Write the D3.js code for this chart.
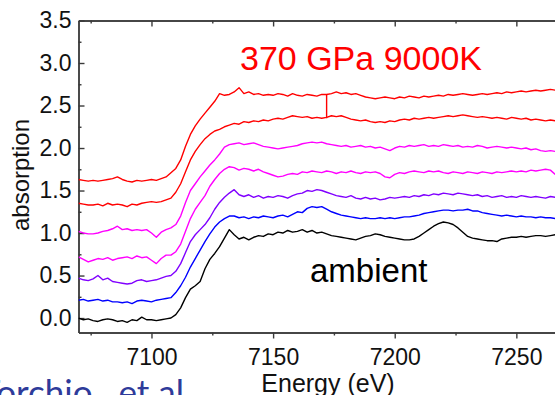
<!DOCTYPE html>
<html>
<head>
<meta charset="utf-8">
<script src="https://cdn.jsdelivr.net/npm/d3@7"></script>
<style>
  html, body { margin: 0; padding: 0; background: #fff; }
  svg { display: block; }
  text { font-family: "Liberation Sans", Arial, sans-serif; }
</style>
</head>
<body>
<svg id="chart" width="555" height="395"></svg>
<script>
// Sampling grid (eV), 2 eV steps
const energies = [
  7070,7072,7074,7076,7078,7080,7082,7084,7086,7088,7090,7092,7094,7096,7098,7100,7102,7104,7106,7108,
  7110,7112,7114,7116,7118,7120,7122,7124,7126,7128,7130,7132,
  7134,7136,7138,7140,7142,7144,7146,7148,7150,7152,7154,7156,7158,7160,7162,7164,7166,7168,7170,
  7172,7174,7176,7178,7180,7182,7184,7186,7188,7190,7192,7194,7196,7198,7200,7202,7204,7206,7208,7210,
  7212,7214,7216,7218,7220,7222,7224,7226,7228,7230,7232,7234,7236,7238,7240,7242,7244,7246,7248,7250,
  7252,7254,7256,7258,7260,7262,7264,7266
];

// Stacked absorption spectra, bottom (ambient) to top (370 GPa, 9000 K)
const ambient = [
  0.00,-0.02,-0.01,-0.03,-0.04,-0.02,-0.01,-0.02,-0.04,-0.03,-0.05,-0.02,-0.03,0.01,-0.02,-0.02,-0.03,-0.02,-0.01,0.00,
  0.04,0.12,0.24,0.34,0.38,0.43,0.58,0.69,0.76,0.84,0.94,1.04,
  0.98,0.93,0.95,0.92,0.95,0.97,0.96,0.99,0.98,1.01,1.00,1.03,1.01,1.02,1.04,1.01,1.03,1.00,1.01,
  0.99,0.97,0.96,0.95,0.94,0.93,0.92,0.94,0.96,0.97,0.99,0.98,0.96,0.95,0.94,0.93,0.92,0.92,0.93,0.96,
  1.00,1.04,1.08,1.11,1.13,1.12,1.10,1.06,1.01,0.96,0.94,0.93,0.92,0.91,0.91,0.90,0.93,0.94,0.95,0.95,
  0.96,0.95,0.96,0.97,0.97,0.96,0.97,0.98
];
const blueSeries = [
  0.21,0.22,0.20,0.21,0.22,0.20,0.21,0.19,0.19,0.18,0.19,0.17,0.20,0.21,0.20,0.19,0.21,0.22,0.23,0.24,
  0.30,0.38,0.48,0.60,0.70,0.80,0.90,0.99,1.07,1.13,1.17,1.20,
  1.20,1.18,1.19,1.17,1.19,1.18,1.20,1.19,1.18,1.20,1.21,1.19,1.22,1.25,1.24,1.29,1.31,1.30,1.31,
  1.28,1.25,1.23,1.21,1.20,1.19,1.18,1.17,1.18,1.17,1.17,1.18,1.17,1.18,1.17,1.18,1.19,1.19,1.20,1.21,
  1.23,1.24,1.25,1.26,1.27,1.27,1.26,1.27,1.27,1.28,1.26,1.26,1.24,1.23,1.22,1.21,1.20,1.21,1.20,1.19,
  1.20,1.19,1.19,1.18,1.19,1.18,1.18,1.17
];
const violetSeries = [
  0.47,0.45,0.44,0.46,0.50,0.45,0.47,0.43,0.42,0.41,0.40,0.41,0.44,0.45,0.43,0.44,0.45,0.47,0.49,0.50,
  0.55,0.64,0.77,0.90,0.98,1.04,1.10,1.18,1.28,1.36,1.42,1.47,
  1.51,1.45,1.43,1.45,1.42,1.44,1.41,1.43,1.42,1.44,1.43,1.41,1.44,1.46,1.47,1.50,1.49,1.51,1.50,
  1.48,1.46,1.44,1.43,1.42,1.44,1.41,1.40,1.42,1.40,1.41,1.39,1.40,1.42,1.41,1.42,1.43,1.42,1.44,1.43,
  1.45,1.44,1.46,1.45,1.47,1.46,1.45,1.47,1.46,1.45,1.44,1.45,1.43,1.44,1.42,1.43,1.44,1.42,1.43,1.42,
  1.44,1.43,1.42,1.43,1.42,1.41,1.43,1.42
];
const magentaLow = [
  0.72,0.69,0.66,0.68,0.70,0.69,0.71,0.68,0.70,0.71,0.72,0.70,0.73,0.71,0.72,0.68,0.64,0.70,0.74,0.74,
  0.78,0.87,1.02,1.17,1.28,1.36,1.44,1.55,1.63,1.70,1.75,1.78,
  1.77,1.74,1.76,1.75,1.73,1.75,1.72,1.70,1.68,1.66,1.67,1.69,1.70,1.69,1.72,1.71,1.73,1.72,1.71,
  1.73,1.72,1.70,1.72,1.71,1.73,1.71,1.70,1.72,1.71,1.72,1.70,1.66,1.65,1.69,1.71,1.70,1.72,1.73,1.72,
  1.71,1.73,1.72,1.73,1.71,1.70,1.72,1.71,1.70,1.72,1.71,1.70,1.72,1.71,1.70,1.72,1.71,1.72,1.73,1.72,
  1.73,1.72,1.74,1.73,1.74,1.75,1.74,1.69
];
const magentaHigh = [
  1.02,1.00,0.99,0.99,1.00,1.02,1.03,1.05,1.08,1.04,1.05,1.03,1.04,1.03,1.04,1.00,0.95,1.01,1.04,1.06,
  1.10,1.20,1.36,1.50,1.58,1.66,1.73,1.80,1.86,1.93,2.01,2.04,
  2.05,2.06,2.04,2.05,2.06,2.04,2.02,2.01,2.00,1.99,2.00,2.01,2.02,2.03,2.05,2.06,2.07,2.06,2.07,
  2.05,2.04,2.03,2.02,2.03,2.01,2.02,2.03,2.01,2.02,2.00,2.01,1.99,1.97,2.00,2.02,2.01,2.03,2.02,2.03,
  2.04,2.02,2.03,2.02,2.04,2.03,2.02,2.03,2.01,2.02,2.01,2.03,2.02,2.00,2.01,2.02,2.01,2.00,2.01,2.00,
  1.99,2.00,1.98,1.99,1.97,1.96,1.97,1.96
];
const redLow = [
  1.35,1.34,1.33,1.33,1.34,1.32,1.35,1.33,1.34,1.33,1.31,1.34,1.33,1.35,1.36,1.37,1.36,1.37,1.39,1.41,
  1.48,1.58,1.72,1.86,1.96,2.04,2.11,2.16,2.20,2.22,2.25,2.27,
  2.29,2.28,2.31,2.30,2.32,2.31,2.33,2.32,2.34,2.35,2.34,2.36,2.38,2.37,2.36,2.37,2.35,2.36,2.35,
  2.36,2.38,2.37,2.38,2.36,2.34,2.33,2.32,2.33,2.31,2.30,2.31,2.30,2.32,2.31,2.33,2.34,2.33,2.35,2.34,
  2.35,2.36,2.35,2.36,2.37,2.38,2.37,2.38,2.39,2.38,2.37,2.36,2.37,2.36,2.35,2.36,2.35,2.34,2.36,2.35,
  2.34,2.35,2.33,2.34,2.33,2.32,2.33,2.32
];
const redHigh = [
  1.63,1.62,1.61,1.62,1.61,1.62,1.63,1.64,1.66,1.63,1.61,1.60,1.62,1.61,1.62,1.63,1.62,1.64,1.66,1.71,
  1.76,1.86,2.02,2.16,2.26,2.34,2.41,2.48,2.55,2.64,2.62,2.63,
  2.66,2.71,2.64,2.66,2.63,2.64,2.62,2.63,2.62,2.64,2.63,2.61,2.64,2.62,2.61,2.63,2.62,2.61,2.63,
  2.63,2.64,2.66,2.64,2.65,2.63,2.64,2.62,2.60,2.59,2.58,2.59,2.60,2.59,2.58,2.60,2.59,2.61,2.60,2.59,
  2.61,2.60,2.61,2.62,2.61,2.63,2.62,2.63,2.64,2.63,2.62,2.63,2.64,2.63,2.64,2.65,2.64,2.66,2.65,2.66,
  2.67,2.66,2.67,2.68,2.67,2.68,2.69,2.68
];
// Single-point glitch in the top spectrum: [energy, top, bottom]
const glitch = [[7172, 2.63, 2.35]];

const seriesColors = ["#000000", "#0000ff", "#8000ff", "#ff00ff", "#ff00ff", "#ff0000", "#ff0000"];
const seriesList = [ambient, blueSeries, violetSeries, magentaLow, magentaHigh, redLow, redHigh];

const xMajorTicks = [7100, 7150, 7200, 7250];
const xMinorTicks = [7075, 7125, 7175, 7225];
const yMajorTicks = [0.0, 0.5, 1.0, 1.5, 2.0, 2.5, 3.0, 3.5];
const yMinorTicks = [0.25, 0.75, 1.25, 1.75, 2.25, 2.75, 3.25];

const svg = d3.select("#chart");
const plotLeft = 78.5, plotRight = 565, plotTop = 20.5, plotBottom = 332.5;

const x = d3.scaleLinear().domain([7070, 7270]).range([plotLeft, plotRight]);
const y = d3.scaleLinear().domain([-0.17, 3.5]).range([plotBottom, plotTop]);

svg.append("defs").append("clipPath").attr("id", "plotClip")
  .append("rect").attr("x", plotLeft).attr("y", plotTop)
  .attr("width", plotRight - plotLeft).attr("height", plotBottom - plotTop);

const axisColor = "#3a3a3a";
const styleAxis = g => {
  g.selectAll("path.domain").attr("stroke", axisColor).attr("stroke-width", 1.4);
  g.selectAll(".tick line").attr("stroke", axisColor).attr("stroke-width", 1.4);
  g.selectAll(".tick text").attr("fill", "#111").style("font-size", "23px")
    .style("font-family", '"Liberation Sans", Arial, sans-serif');
};

// Bottom axis: outward ticks with labels
svg.append("g").attr("transform", `translate(0,${plotBottom})`)
  .call(d3.axisBottom(x).tickValues(xMajorTicks).tickSizeInner(6).tickSizeOuter(0).tickPadding(10).tickFormat(d3.format("d")))
  .call(styleAxis);
svg.append("g").attr("transform", `translate(0,${plotBottom})`)
  .call(d3.axisBottom(x).tickValues(xMinorTicks).tickSizeInner(3).tickSizeOuter(0).tickFormat(""))
  .call(styleAxis);

// Top axis: inward ticks, no labels
svg.append("g").attr("transform", `translate(0,${plotTop})`)
  .call(d3.axisTop(x).tickValues(xMajorTicks).tickSizeInner(-6).tickSizeOuter(0).tickFormat(""))
  .call(styleAxis);
svg.append("g").attr("transform", `translate(0,${plotTop})`)
  .call(d3.axisTop(x).tickValues(xMinorTicks).tickSizeInner(-3).tickSizeOuter(0).tickFormat(""))
  .call(styleAxis);

// Left axis: inward ticks
svg.append("g").attr("transform", `translate(${plotLeft},0)`)
  .call(d3.axisLeft(y).tickValues(yMajorTicks).tickSizeInner(-6).tickSizeOuter(0).tickPadding(7).tickFormat(d3.format(".1f")))
  .call(styleAxis);
svg.append("g").attr("transform", `translate(${plotLeft},0)`)
  .call(d3.axisLeft(y).tickValues(yMinorTicks).tickSizeInner(-3).tickSizeOuter(0).tickFormat(""))
  .call(styleAxis);

// Spectra
const line = d3.line().x((d, i) => x(energies[i])).y(d => y(d));
const plot = svg.append("g").attr("clip-path", "url(#plotClip)");
plot.selectAll("path.spectrum").data(seriesList).join("path")
  .attr("class", "spectrum")
  .attr("d", line)
  .attr("fill", "none")
  .attr("stroke", (d, i) => seriesColors[i])
  .attr("stroke-width", 1.4)
  .attr("stroke-linejoin", "round");
plot.selectAll("line.glitch").data(glitch).join("line")
  .attr("class", "glitch")
  .attr("x1", d => x(d[0])).attr("x2", d => x(d[0]))
  .attr("y1", d => y(d[1])).attr("y2", d => y(d[2]))
  .attr("stroke", "#ff0000").attr("stroke-width", 1.4);

// Annotations
svg.append("text").attr("x", 240).attr("y", 70)
  .attr("fill", "#ff0000").style("font-size", "34px").text("370 GPa 9000K");
svg.append("text").attr("x", 310).attr("y", 282)
  .attr("fill", "#000").style("font-size", "33px").text("ambient");

// Axis titles
svg.append("text").attr("x", 328).attr("y", 392).attr("text-anchor", "middle")
  .attr("fill", "#111").style("font-size", "25px").text("Energy (eV)");
svg.append("text").attr("transform", "translate(29,175) rotate(-90)").attr("text-anchor", "middle")
  .attr("fill", "#111").style("font-size", "24px").text("absorption");

// Source credit
svg.append("text").attr("x", 184).attr("y", 405).attr("text-anchor", "end")
  .attr("fill", "#2e3b9a").style("font-size", "35px").style("font-family", "Lato, 'Open Sans', sans-serif")
  .text("Torchio , et al");
</script>
</body>
</html>
